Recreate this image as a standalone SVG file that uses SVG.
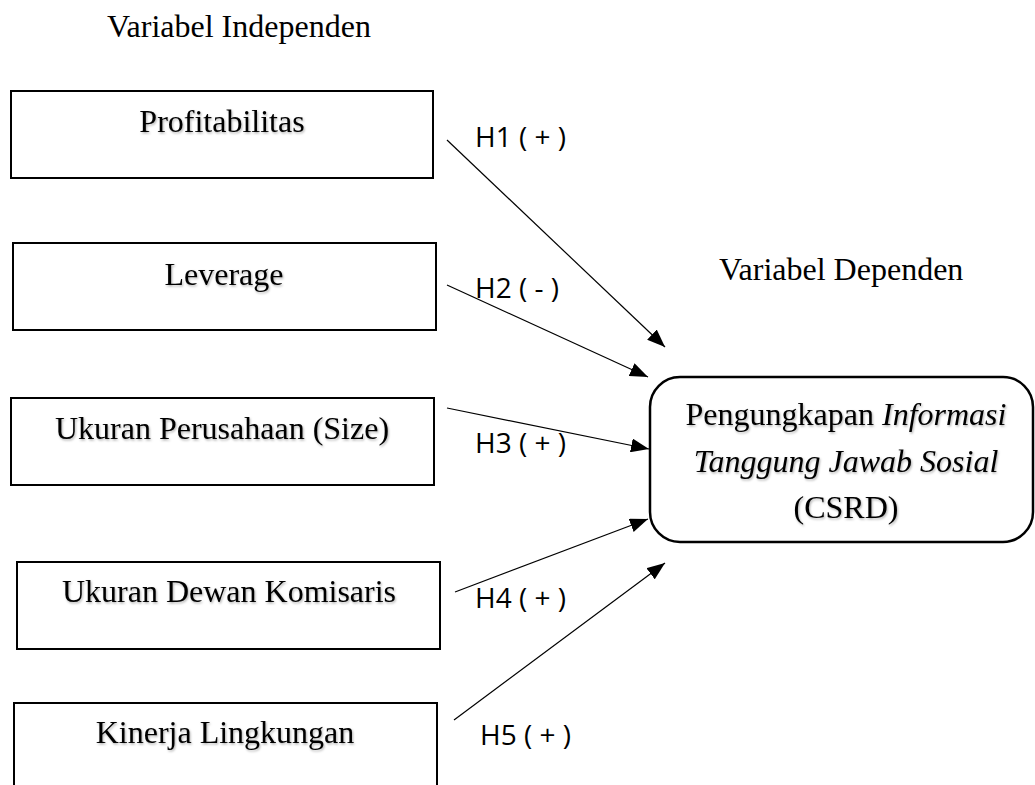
<svg xmlns="http://www.w3.org/2000/svg" width="1035" height="785" viewBox="0 0 1035 785">
<style>
.box{fill:#fff;stroke:#000;stroke-width:2}
.dep{fill:#fff;stroke:#000;stroke-width:2.5}
.t{font-family:"Liberation Serif","Times New Roman",serif;font-size:32px;fill:#000}
.bt{font-family:"Liberation Serif","Times New Roman",serif;font-size:32px;fill:#000;text-anchor:middle;filter:url(#sh)}
.h{font-family:"Open Sans","Noto Sans",sans-serif;font-size:28px;fill:#000}
.c{stroke:#000;stroke-width:1.2;fill:none;marker-end:url(#ah)}
</style>
<defs>
<marker id="ah" viewBox="0 0 18 14" refX="18" refY="7" markerWidth="18" markerHeight="14" markerUnits="userSpaceOnUse" orient="auto">
<path d="M0,0 L18,7 L0,14 Z" fill="#000"/>
</marker>
<filter id="sh" x="-5%" y="-20%" width="110%" height="140%">
<feDropShadow dx="1" dy="1.5" stdDeviation="1" flood-color="#000" flood-opacity="0.3"/>
</filter>
</defs>
<rect width="1035" height="785" fill="#fff"/>
<text class="t" x="107" y="37">Variabel Independen</text>
<text class="t" x="719" y="280">Variabel Dependen</text>
<g id="profitabilitas">
<rect class="box" x="11" y="91" width="422" height="87"/>
<text class="bt" x="222" y="132">Profitabilitas</text>
</g>
<g id="leverage">
<rect class="box" x="13" y="243" width="423" height="87"/>
<text class="bt" x="224" y="285">Leverage</text>
</g>
<g id="ukuran-perusahaan">
<rect class="box" x="11" y="398" width="423" height="87"/>
<text class="bt" x="222" y="439">Ukuran Perusahaan (Size)</text>
</g>
<g id="ukuran-dewan">
<rect class="box" x="17" y="562" width="423" height="87"/>
<text class="bt" x="229" y="602">Ukuran Dewan Komisaris</text>
</g>
<g id="kinerja">
<rect class="box" x="14" y="703" width="423" height="100"/>
<text class="bt" x="225" y="743">Kinerja Lingkungan</text>
</g>
<g id="csrd">
<rect class="dep" x="650" y="377" width="383" height="165" rx="30" ry="30"/>
<text class="bt" x="846" y="425">Pengungkapan <tspan font-style="italic">Informasi</tspan></text>
<text class="bt" x="846" y="472" font-style="italic">Tanggung Jawab Sosial</text>
<text class="bt" x="846" y="518">(CSRD)</text>
</g>
<g id="connectors">
<line class="c" x1="447" y1="140" x2="665" y2="347"/>
<line class="c" x1="447" y1="285" x2="648" y2="377"/>
<line class="c" x1="447" y1="408" x2="649" y2="449"/>
<line class="c" x1="455" y1="592" x2="648" y2="519"/>
<line class="c" x1="454" y1="720" x2="665" y2="563"/>
<text class="h" x="475" y="147">H1 ( + )</text>
<text class="h" x="475" y="298">H2 ( - )</text>
<text class="h" x="475" y="453">H3 ( + )</text>
<text class="h" x="475" y="608">H4 ( + )</text>
<text class="h" x="480" y="745">H5 ( + )</text>
</g>
</svg>
